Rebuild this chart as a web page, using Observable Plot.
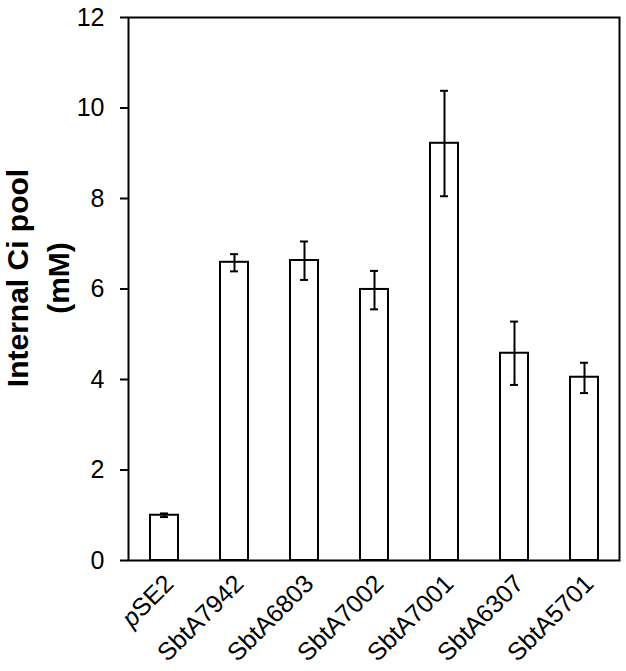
<!DOCTYPE html>
<html><head><meta charset="utf-8">
<script src="https://cdn.jsdelivr.net/npm/d3@7"></script>
<script src="https://cdn.jsdelivr.net/npm/@observablehq/plot@0.6"></script>
<style>
body{margin:0;background:#fff;}
svg{font-family:"Liberation Sans",Arial,sans-serif;}
</style></head>
<body><div id="chart"></div>
<script>
const strains = ["pSE2","SbtA7942","SbtA6803","SbtA7002","SbtA7001","SbtA6307","SbtA5701"];
const means = [1.0, 6.59, 6.63, 5.99, 9.22, 4.58, 4.05];
const errLow = [0.96, 6.39, 6.20, 5.55, 8.05, 3.88, 3.70];
const errHigh = [1.04, 6.77, 7.05, 6.40, 10.38, 5.28, 4.37];
const yTicks = [0, 2, 4, 6, 8, 10, 12];
const yLabel = "Internal Ci pool\n(mM)";

const data = strains.map((s, i) => ({strain: s, mean: means[i], lo: errLow[i], hi: errHigh[i]}));

const plot = Plot.plot({
  width: 626, height: 671,
  marginTop: 17, marginLeft: 128, marginRight: 7, marginBottom: 111,
  style: {fontFamily: "Liberation Sans, Arial, sans-serif", fontSize: "25px", background: "#fff", color: "#000"},
  x: {domain: strains, paddingInner: 0.6, paddingOuter: 0.3, label: null},
  y: {domain: [0, 12], label: null},
  marks: [
    Plot.barY(data, {x: "strain", y: "mean", fill: "white", stroke: "black", strokeWidth: 2}),
    Plot.ruleX(data, {x: "strain", y1: "lo", y2: "hi", stroke: "black", strokeWidth: 2}),
    Plot.tickY(data, {x: "strain", y: "lo", stroke: "black", strokeWidth: 2, insetLeft: 10, insetRight: 10}),
    Plot.tickY(data, {x: "strain", y: "hi", stroke: "black", strokeWidth: 2, insetLeft: 10, insetRight: 10}),
    Plot.frame({stroke: "black", strokeWidth: 2}),
    Plot.axisY({ticks: yTicks, tickSize: 8, tickPadding: 16, fontSize: 25, strokeWidth: 2, label: null, tickFormat: d => String(d)}),
    Plot.axisX({tickSize: 0, tickRotate: -45, fontSize: 25, label: null, tickPadding: 4, dx: 5, dy: 15}),
    Plot.text([yLabel], {text: d => d, frameAnchor: "left", textAnchor: "middle", lineAnchor: "middle", rotate: -90, dx: -93, dy: -11, fontSize: 30, fontWeight: "bold", lineHeight: 1.367, fill: "black"})
  ]
});
document.getElementById("chart").appendChild(plot);
// italic "p" in pSE2
d3.select(plot).selectAll("text").each(function() {
  const t = d3.select(this);
  if (t.text() === "pSE2" && this.childElementCount === 0) {
    t.text(null);
    t.append("tspan").attr("font-style", "italic").text("p");
    t.append("tspan").text("SE2");
  }
});
</script></body></html>
